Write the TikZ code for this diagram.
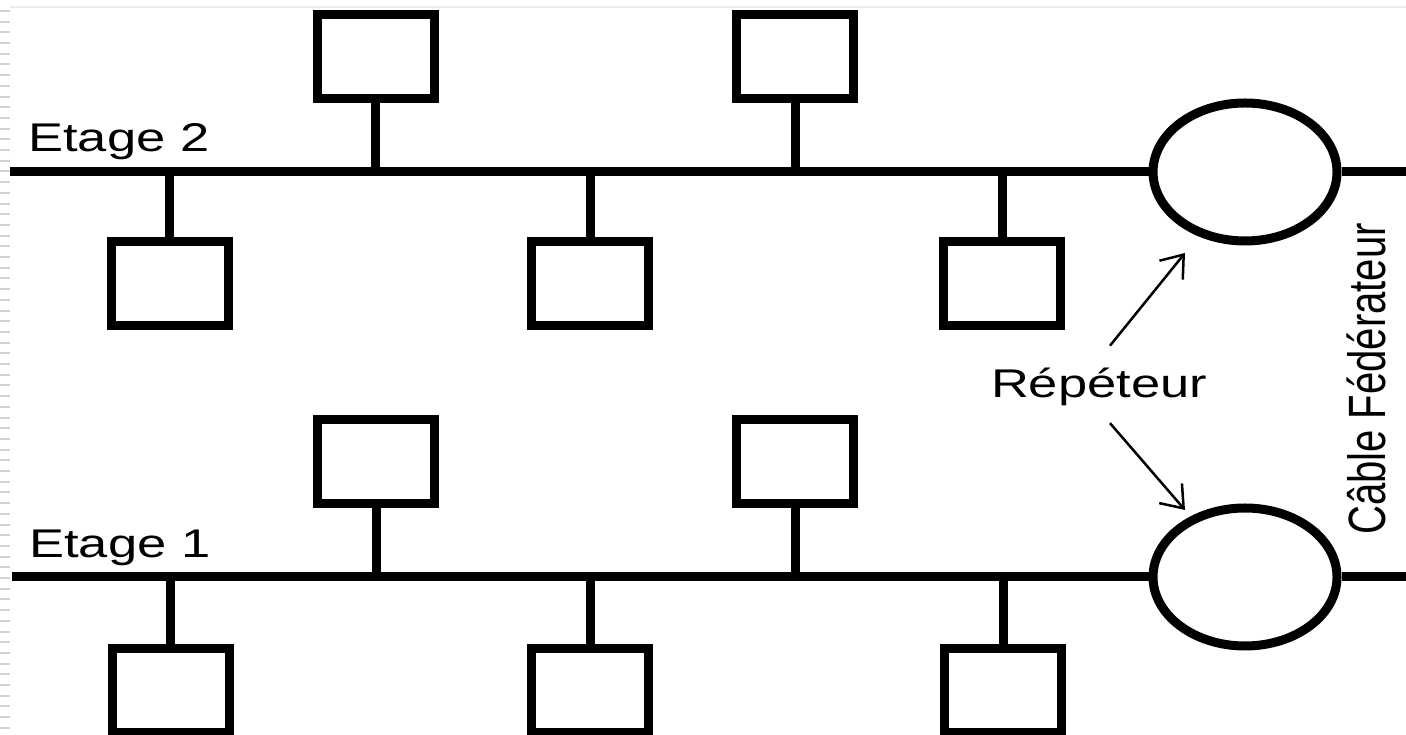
\documentclass[tikz,border=0pt]{standalone}
\usepackage{fontspec}
\setmainfont{Liberation Sans}
\usetikzlibrary{arrows.meta,shapes.geometric}

% text set a little wider than the font gives
\newcommand{\widetext}[1]{\scalebox{1.31}[1]{#1}}

\begin{document}
\begin{tikzpicture}[
    station/.style={
        draw,
        line width=0.18cm,
        minimum width=2.34cm,
        minimum height=1.68cm,
        inner sep=0pt
    },
    repeater/.style={draw, ellipse, line width=0.18cm,
        minimum width=3.68cm, minimum height=2.76cm, inner sep=0pt},
    bus/.style={line width=0.18cm},
    floortext/.style={font=\fontsize{22.8}{26}\selectfont, inner sep=0pt},
    pointer/.style={-{Straight Barb[length=0.4cm,width=0.6cm]}, line width=0.05cm}
]
\useasboundingbox (0,0) rectangle (28.12,14.7);

% page edge marks
\draw[gray!35, line width=0.2cm, dash pattern=on 0.04cm off 0.174cm] (0.1,14.5) -- (0.1,0);
\draw[gray!15, line width=0.03cm] (0.2,14.56) -- (28.12,14.56);

% Etage 2 — bus, repeater and stations
\coordinate (w2) at (0.2,11.26);
\coordinate (e2) at (28.3,11.26);
\node[repeater] (rep2) at (24.9,11.26) {};
\node[station] (s2a) at (7.51,13.56) {};
\node[station] (s2b) at (15.9,13.56) {};
\node[station] (s2c) at (3.39,9.02) {};
\node[station] (s2d) at (11.8,9.02) {};
\node[station] (s2e) at (20.04,9.02) {};

\draw[bus] (w2) -- (rep2.west);
\draw[bus] (rep2.east) -- (e2);
\foreach \s in {s2a,s2b}
    \draw[bus] (\s.south) -- (\s.south |- w2);
\foreach \s in {s2c,s2d,s2e}
    \draw[bus] (\s.north) -- (\s.north |- w2);

% Etage 1 — same layout, lower down
\coordinate (w1) at (0.24,3.16);
\coordinate (e1) at (28.3,3.16);
\node[repeater] (rep1) at (24.9,3.16) {};
\node[station] (s1a) at (7.52,5.46) {};
\node[station] (s1b) at (15.9,5.46) {};
\node[station] (s1c) at (3.41,0.89) {};
\node[station] (s1d) at (11.8,0.89) {};
\node[station] (s1e) at (20.06,0.89) {};

\draw[bus] (w1) -- (rep1.west);
\draw[bus] (rep1.east) -- (e1);
\foreach \s in {s1a,s1b}
    \draw[bus] (\s.south) -- (\s.south |- w1);
\foreach \s in {s1c,s1d,s1e}
    \draw[bus] (\s.north) -- (\s.north |- w1);

% Labels
\node[floortext, anchor=base west] (t2) at (0.56,11.66) {\widetext{Etage 2}};
\node[floortext, anchor=base west] (t1) at (0.58,3.54) {\widetext{Etage 1}};
\node[floortext, anchor=base] (rep) at (21.98,6.74) {\widetext{Répéteur}};
\node[floortext, rotate=90, anchor=base] (cable) at (27.7,7.12)
    {\scalebox{1}[1.31]{Câble Fédérateur}};

% Pointers to the repeaters
\coordinate (tip2) at (23.7,9.64);
\coordinate (tip1) at (23.7,4.5);
\draw[pointer] ([xshift=0.22cm, yshift=0.45cm]rep.north) -- (tip2);
\draw[pointer] ([xshift=0.22cm, yshift=-0.33cm]rep.south) -- (tip1);

\end{tikzpicture}
\end{document}
